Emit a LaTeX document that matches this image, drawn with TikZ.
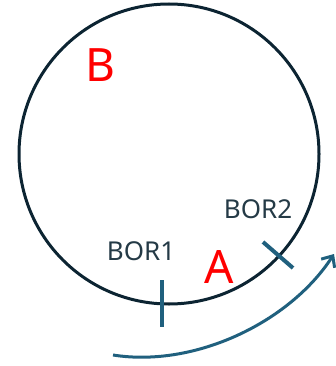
\documentclass[tikz,border=0pt]{standalone}
\usepackage{fontspec}
\setmainfont{Noto Sans}
\usetikzlibrary{arrows.meta}
\definecolor{ringdark}{RGB}{12,36,50}
\definecolor{bortick}{RGB}{32,96,126}

\begin{document}
\begin{tikzpicture}[x=1pt,y=-1pt, every node/.style={inner sep=0pt},
  zone/.style={text=red, font=\fontsize{46}{46}\selectfont},
  borlabel/.style={text=ringdark!90, font=\fontsize{26}{26}\selectfont}]
  \useasboundingbox (0,0) rectangle (336,366);
  % ring
  \draw[ringdark, line width=3pt] (169,154) circle[radius=150];
  \node[zone] (zoneB) at (100,65) {B};
  \node[zone] (zoneA) at (219,267) {A};
  \node[borlabel] (bor1) at (141,251) {BOR1};
  \node[borlabel] (bor2) at (258,209) {BOR2};
  % ticks
  \draw[bortick, line width=4pt] (162,280) -- (162,327);
  \draw[bortick, line width=4pt] (263,242) -- (293,268);
  % rotation
  \draw[bortick, line width=3pt, -{Straight Barb[length=9pt,width=16pt]}]
    (113,355) .. controls (195,368) and (290,322) .. (334,254);
\end{tikzpicture}
\end{document}
